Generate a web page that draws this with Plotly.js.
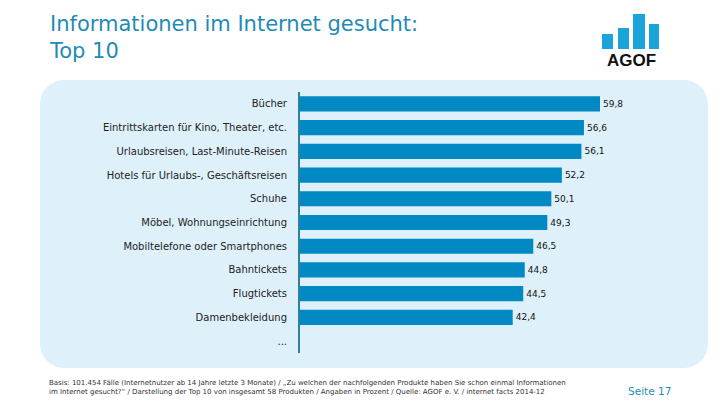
<!DOCTYPE html>
<html>
<head>
<meta charset="utf-8">
<script src="https://cdn.plot.ly/plotly-3.0.1.min.js"></script>
<style>html,body{margin:0;padding:0;background:#fff;}#chart{width:720px;height:405px;}</style>
</head>
<body>
<div id="chart"></div>
<script>
// ---- data ----
var categories = ["Bücher", "Eintrittskarten für Kino, Theater, etc.", "Urlaubsreisen, Last-Minute-Reisen",
  "Hotels für Urlaubs-, Geschäftsreisen", "Schuhe", "Möbel, Wohnungseinrichtung",
  "Mobiltelefone oder Smartphones", "Bahntickets", "Flugtickets", "Damenbekleidung", "..."];
var values = [59.8, 56.6, 56.1, 52.2, 50.1, 49.3, 46.5, 44.8, 44.5, 42.4, null];
var valueLabels = ["59,8", "56,6", "56,1", "52,2", "50,1", "49,3", "46,5", "44,8", "44,5", "42,4", ""];
var titleLine1 = "Informationen im Internet gesucht:";
var titleLine2 = "Top 10";
var footerLine1 = "Basis: 101.454 Fälle (Internetnutzer ab 14 Jahre letzte 3 Monate) / „Zu welchen der nachfolgenden Produkte haben Sie schon einmal Informationen";
var footerLine2 = "im Internet gesucht?“ / Darstellung der Top 10 von insgesamt 58 Produkten / Angaben in Prozent / Quelle: AGOF e. V. / internet facts 2014-12";
var pageText = "Seite 17";
var logoText = "AGOF";

// ---- layout geometry (pixels) ----
var W = 720, H = 405;
var mL = 300, mR = 60, mT = 92, mB = 52;
var pw = W - mL - mR, ph = H - mT - mB;
function fx(x) { return (x - mL) / pw; }
function fy(y) { return 1 - (y - mT) / ph; }
function roundRect(x0, y0, x1, y1, r) {
  var k = 0.45 * r;
  return "M" + fx(x0 + r) + "," + fy(y0) +
    " L" + fx(x1 - r) + "," + fy(y0) +
    " C" + fx(x1 - k) + "," + fy(y0) + " " + fx(x1) + "," + fy(y0 + k) + " " + fx(x1) + "," + fy(y0 + r) +
    " L" + fx(x1) + "," + fy(y1 - r) +
    " C" + fx(x1) + "," + fy(y1 - k) + " " + fx(x1 - k) + "," + fy(y1) + " " + fx(x1 - r) + "," + fy(y1) +
    " L" + fx(x0 + r) + "," + fy(y1) +
    " C" + fx(x0 + k) + "," + fy(y1) + " " + fx(x0) + "," + fy(y1 - k) + " " + fx(x0) + "," + fy(y1 - r) +
    " L" + fx(x0) + "," + fy(y0 + r) +
    " C" + fx(x0) + "," + fy(y0 + k) + " " + fx(x0 + k) + "," + fy(y0) + " " + fx(x0 + r) + "," + fy(y0) + " Z";
}

var shapes = [
  { type: "path", xref: "paper", yref: "paper", path: roundRect(40, 80, 708, 368, 24),
    fillcolor: "#def1fb", line: { width: 0 }, layer: "below" }
];
var logoBars = [[602, 613, 34], [618, 629, 28], [633, 645, 14], [649, 659, 24]];
logoBars.forEach(function (b) {
  shapes.push({ type: "rect", xref: "paper", yref: "paper", x0: fx(b[0]), x1: fx(b[1]), y0: fy(49), y1: fy(b[2]),
    fillcolor: "#1ba4da", line: { width: 0 } });
});

var trace = {
  type: "bar", orientation: "h",
  x: values, y: categories,
  marker: { color: "#0089c2" },
  width: 0.64,
  text: valueLabels, textposition: "outside", cliponaxis: false,
  textfont: { family: "DejaVu Sans", size: 9, color: "#111" },
  hoverinfo: "none"
};

var titleFont = { family: "DejaVu Sans", size: 21, color: "#1f8bb6" };

var layout = {
  width: W, height: H,
  margin: { l: mL, r: mR, t: mT, b: mB, pad: 0 },
  paper_bgcolor: "#ffffff", plot_bgcolor: "rgba(0,0,0,0)",
  showlegend: false,
  separators: ",.",
  xaxis: { range: [0, pw / (300 / 59.8)], showgrid: false, zeroline: false, showticklabels: false, showline: false, fixedrange: true },
  yaxis: { type: "category", autorange: "reversed", showgrid: false, zeroline: false,
    showline: true, linecolor: "#2f7f9e", linewidth: 2, ticks: "", ticklabelstandoff: 9,
    tickfont: { family: "DejaVu Sans", size: 10, color: "#222" } },
  shapes: shapes,
  annotations: [
    { text: titleLine1 + "<br>" + titleLine2, xref: "paper", yref: "paper", x: fx(47), y: fy(37.5), xanchor: "left", yanchor: "middle",
      align: "left", showarrow: false, font: titleFont },
    { text: logoText, xref: "paper", yref: "paper", x: fx(631), y: fy(61), xanchor: "center", yanchor: "middle",
      showarrow: false, font: { family: "Liberation Sans", size: 17, color: "#111", weight: "bold" } },
    { text: footerLine1 + "<br>" + footerLine2, xref: "paper", yref: "paper", x: fx(47), y: fy(377), xanchor: "left", yanchor: "top",
      align: "left", showarrow: false, font: { family: "DejaVu Sans", size: 7, color: "#333" } },
    { text: pageText, xref: "paper", yref: "paper", x: fx(673), y: fy(391), xanchor: "right", yanchor: "middle",
      showarrow: false, font: { family: "DejaVu Sans", size: 10.5, color: "#1f8bb6" } }
  ]
};

Plotly.newPlot("chart", [trace], layout, { staticPlot: true, displayModeBar: false });
</script>
</body>
</html>
